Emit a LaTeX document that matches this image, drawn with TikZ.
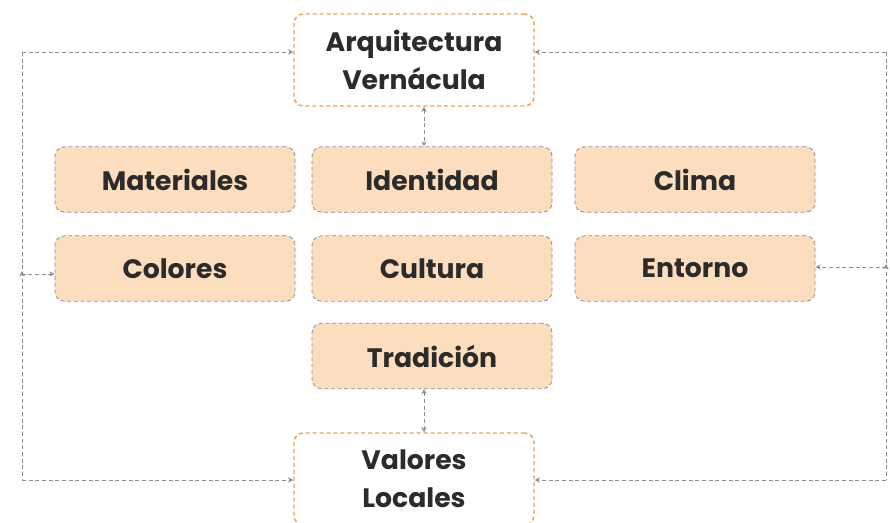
\documentclass[tikz,border=0pt]{standalone}
\usepackage{fontspec}
\setmainfont{Poppins}
\usetikzlibrary{arrows.meta,calc}
\definecolor{peach}{HTML}{FCDDBE}
\definecolor{orng}{HTML}{F0A04E}
\definecolor{grayline}{HTML}{8E8E8E}
\definecolor{txt}{HTML}{2B2B2B}
\tikzset{
  px/.style={x=0.75pt,y=-0.75pt},
  mainbox/.style={draw=orng, line width=1.1pt, dash pattern=on 3pt off 2.2pt, fill=white, rounded corners=7pt,
    minimum width=180pt, minimum height=69pt, align=center, text=txt, font=\fontsize{20}{28.5}\selectfont\bfseries, inner sep=0pt},
  factor/.style={draw=grayline, line width=0.6pt, dash pattern=on 3pt off 2pt, fill=peach, rounded corners=7pt,
    minimum width=180pt, minimum height=49pt, align=center, text=txt, font=\fontsize{20}{24}\selectfont\bfseries, inner sep=0pt},
  dashline/.style={draw=grayline, line width=0.6pt, dash pattern=on 3pt off 2pt},
  link/.style={dashline, {Stealth[length=4pt,width=4pt]}-{Stealth[length=4pt,width=4pt]}},
  onearrow/.style={dashline, -{Stealth[length=4pt,width=4pt]}},
}
\begin{document}
\begin{tikzpicture}[px]
\useasboundingbox (0,0) rectangle (890,522);
% main boxes
\node[mainbox] (arq) at (414,60) {Arquitectura\\Vernácula};
\node[mainbox] (val) at (414,479) {Valores\\Locales};
% factors
\node[factor] (mat) at (175,179.5) {Materiales};
\node[factor] (ide) at (432,179.5) {Identidad};
\node[factor] (cli) at (695,179.5) {Clima};
\node[factor] (col) at (175,268.5) {Colores};
\node[factor] (cul) at (432,268.5) {Cultura};
\node[factor] (ent) at (695,268.5) {Entorno};
\node[factor] (tra) at (432,356) {Tradición};
% corner coordinates
\coordinate (lt) at (22,52);
\coordinate (lb) at (22,480);
\coordinate (rt) at (886,52);
\coordinate (rb) at (886,480);
\coordinate (lc) at (22,274);
\coordinate (rc) at (886,267);
\coordinate (mx) at (424,0);
% vertical connectors
\draw[link] (arq.south -| mx) -- (ide.north -| mx);
\draw[link] (tra.south -| mx) -- (val.north -| mx);
% outer loop
\draw[dashline] (lt) -- (lb);
\draw[dashline] (rt) -- (rb);
\draw[onearrow] (lt) -- (arq.west |- lt);
\draw[onearrow] (lb) -- (val.west |- lb);
\draw[onearrow] (rt) -- (arq.east |- rt);
\draw[onearrow] (rb) -- (val.east |- rb);
% side connectors
\draw[link] ($(lc)+(0,-3)$) -- (lc) -- (col.west |- lc);
\draw[link] ($(rc)+(0,-3)$) -- (rc) -- (ent.east |- rc);
\end{tikzpicture}
\end{document}
